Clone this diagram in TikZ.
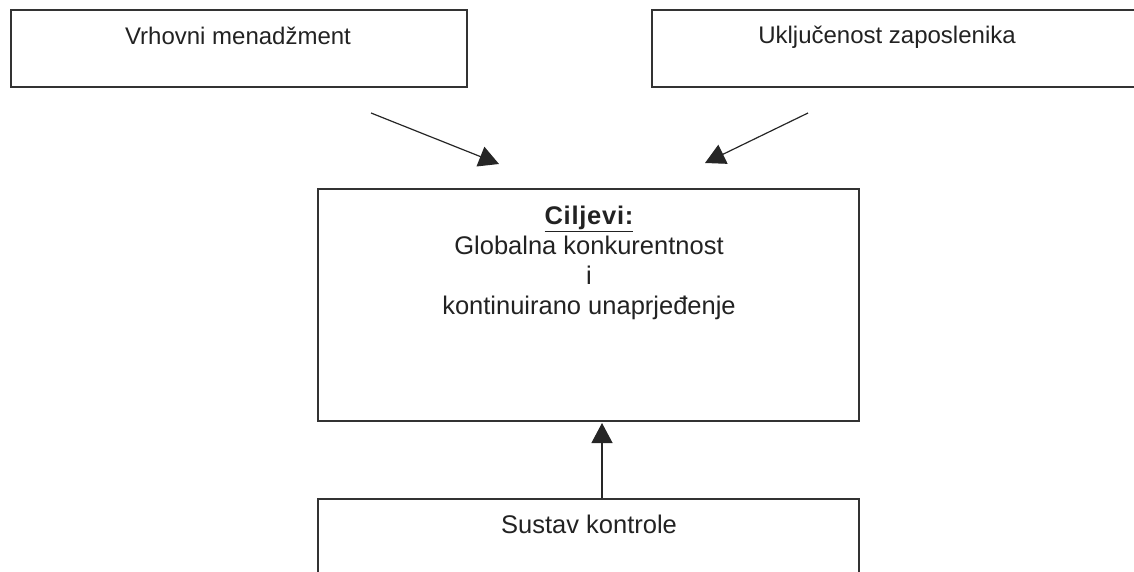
\documentclass[tikz,border=0pt]{standalone}
\usepackage{fontspec}
\setmainfont{Liberation Sans}
\usetikzlibrary{positioning, arrows.meta}
\definecolor{rub}{HTML}{333333}
\definecolor{tekst}{HTML}{222222}

\begin{document}
\begin{tikzpicture}[x=1pt, y=-1pt,
        okvir/.style={draw=rub, line width=1.4pt, inner sep=0pt},
        natpis/.style={font=\fontsize{24}{30}\selectfont, inner sep=0pt, text=tekst},
        veci/.style={natpis, font=\fontsize{25.5}{30}\selectfont},
        strelica/.style={draw=black!85, line width=1.2pt, -{Triangle[length=20pt, width=21pt]}}
    ]
      \useasboundingbox (0,0) rectangle (1134,572);

      % Top boxes
      \node[okvir, minimum width=456pt, minimum height=77pt] (vrh) at (239,48.5) {};
      \node[natpis, anchor=base] (vrhtxt) at (238,45) {Vrhovni menadžment};
      \node[okvir, minimum width=500pt, minimum height=77pt] (ukl) at (902,48.5) {};
      \node[natpis, anchor=base] (ukltxt) at (887,44) {Uključenost zaposlenika};

      % Goals
      \node[okvir, minimum width=541pt, minimum height=232pt] (cilj) at (588.5,305) {};
      \node[veci, anchor=north, align=center] (ciljtxt) at (589,206)
        {{\addfontfeature{LetterSpace=3}\textbf{\underline{Ciljevi:}}}\\Globalna konkurentnost\\i\\kontinuirano unaprjeđenje};

      % Control
      \node[okvir, minimum width=541pt, minimum height=121pt] (sustav) at (588.5,559.5) {};
      \node[veci, anchor=base] (sustavtxt) at (589,533) {Sustav kontrole};

      % Arrows
      \coordinate (vrhpoc) at (371,113);
      \coordinate (vrhkraj) at (499,164);
      \coordinate (uklpoc) at (808,113);
      \coordinate (uklkraj) at (705,163);
      \coordinate (kup) at (602,423);
      \draw[strelica] (vrhpoc) -- (vrhkraj);
      \draw[strelica] (uklpoc) -- (uklkraj);
      \draw[strelica] (kup |- sustav.north) -- (kup);
    \end{tikzpicture}
\end{document}
